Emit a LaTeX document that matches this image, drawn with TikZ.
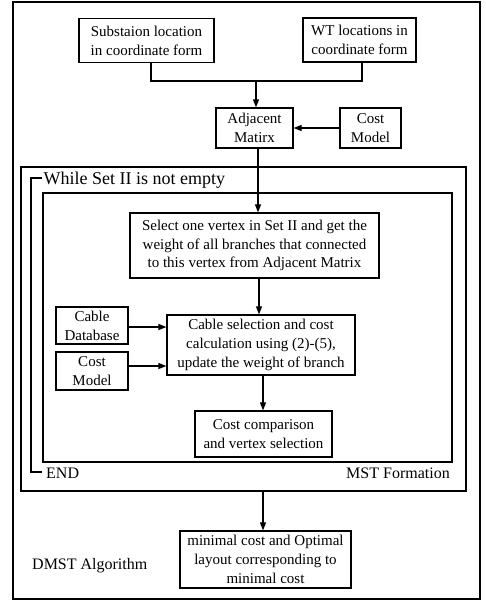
\documentclass[tikz,border=0pt]{standalone}
\usepackage{fontspec}
\setmainfont{Liberation Serif}
\usetikzlibrary{arrows.meta}
\begin{document}
\begin{tikzpicture}[x=1pt,y=-1pt,
  txt/.style={font=\fontsize{15}{18.8}\selectfont},
  box/.style={draw, line width=1.2pt, align=center, inner sep=0pt, txt},
  frame/.style={draw, line width=1.2pt, inner sep=0pt},
  lbl/.style={font=\fontsize{16}{19}\selectfont, inner sep=0pt},
  line/.style={line width=1.2pt},
  arr/.style={line, -{Triangle[length=8pt,width=6pt]}}]
\useasboundingbox (0,0) rectangle (486,601);

% outer frame of the DMST algorithm
\node[frame, minimum width=467, minimum height=597] (dmst) at (246.5,300.5) {};
% MST formation frame and loop body
\node[frame, minimum width=445, minimum height=324] (mst) at (243.5,329) {};
\node[frame, minimum width=409, minimum height=269] (loop) at (247.5,327.5) {};

% input data
\node[box, minimum width=135, minimum height=44] (sub) at (146.5,40.5) {Substaion location\\in coordinate form};
\node[box, minimum width=113, minimum height=44] (wt) at (359.5,40) {WT locations in\\coordinate form};
\node[box, minimum width=77, minimum height=40] (adj) at (254.5,128) {Adjacent\\Matirx};
\node[box, minimum width=61, minimum height=40] (cm1) at (370.5,128) {Cost\\Model};

% loop body
\node[box, minimum width=249, minimum height=65] (sel) at (254.5,245.5) {Select one vertex in Set II and get the\\weight of all branches that connected\\to this vertex from Adjacent Matrix};
\node[box, minimum width=188, minimum height=60] (cab) at (261,345) {Cable selection and cost\\calculation using (2)-(5),\\update the weight of branch};
\node[box, minimum width=72, minimum height=37] (db) at (92,325.5) {Cable\\Database};
\node[box, minimum width=72, minimum height=38] (cm2) at (92,371) {Cost\\Model};
\node[box, minimum width=137, minimum height=46] (cmp) at (263.5,434) {Cost comparison\\and vertex selection};

% result
\node[box, minimum width=171, minimum height=57] (res) at (265.5,559.5) {minimal cost and Optimal\\layout corresponding to\\minimal cost};

% loop bracket and labels
\coordinate (wtop) at (42,178);
\coordinate (wbot) at (42,472);
\draw[line] (wtop) -- (31,178) -- (31,472) -- (wbot);
\node[font=\fontsize{18}{20}\selectfont, inner sep=0pt, anchor=west] (while) at (43.5,180) {While Set II is not empty};
\node[lbl, anchor=west] (end) at (46,473) {END};
\node[lbl, anchor=east] (mstl) at (450,473) {MST Formation};
\node[lbl, anchor=west] (dmstl) at (32,566) {DMST Algorithm};

% connectors
\coordinate (j) at (256,81);
\draw[line] ([xshift=4.5pt]sub.south) |- (j) -| ([xshift=2.5pt]wt.south);
\draw[arr] (j) -- (j |- adj.north);
\draw[arr] (cm1.west) -- (adj.east);
\draw[arr] ([xshift=3.5pt]adj.south) -- ([xshift=3.5pt]adj.south |- sel.north);
\draw[arr] ([xshift=4.5pt]sel.south) -- ([xshift=4.5pt]sel.south |- cab.north);
\draw[arr] (db.east |- 0,327) -- (cab.west |- 0,327);
\draw[arr] (cm2.east |- 0,366) -- (cab.west |- 0,366);
\draw[arr] ([xshift=2pt]cab.south) -- ([xshift=2pt]cab.south |- cmp.north);
\draw[arr] (mst.south -| 263,0) -- (res.north -| 263,0);
\end{tikzpicture}
\end{document}
